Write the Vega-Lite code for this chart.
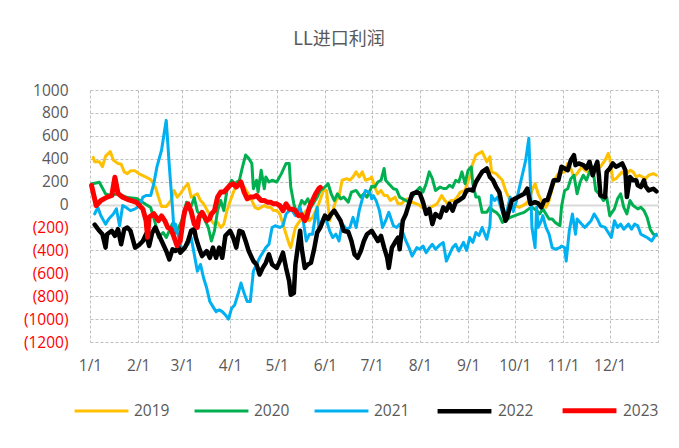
{
  "$schema": "https://vega.github.io/schema/vega-lite/v6.json",
  "width": 568,
  "height": 252,
  "autosize": {"type": "none"},
  "padding": {"left": 90, "top": 90, "right": 21, "bottom": 106},
  "background": "white",
  "config": {"view": {"stroke": null}},
  "title": {"text": "LL进口利润", "font": "Noto Sans CJK SC", "fontSize": 18, "fontWeight": "normal", "color": "#595959", "offset": 34, "dx": -35},
  "data": {"values": [
{"year":"2019","day":2,"value":412},{"year":"2019","day":3,"value":373},{"year":"2019","day":6,"value":373},{"year":"2019","day":8,"value":330},{"year":"2019","day":10,"value":423},{"year":"2019","day":13,"value":462},{"year":"2019","day":15,"value":388},{"year":"2019","day":18,"value":359},{"year":"2019","day":20,"value":353},{"year":"2019","day":22,"value":285},{"year":"2019","day":24,"value":270},{"year":"2019","day":26,"value":294},{"year":"2019","day":29,"value":294},{"year":"2019","day":32,"value":265},{"year":"2019","day":35,"value":247},{"year":"2019","day":39,"value":218},{"year":"2019","day":42,"value":153},{"year":"2019","day":44,"value":65},{"year":"2019","day":46,"value":-18},{"year":"2019","day":49,"value":-18},{"year":"2019","day":52,"value":35},{"year":"2019","day":54,"value":123},{"year":"2019","day":56,"value":65},{"year":"2019","day":58,"value":94},{"year":"2019","day":61,"value":153},{"year":"2019","day":63,"value":182},{"year":"2019","day":65,"value":65},{"year":"2019","day":67,"value":79},{"year":"2019","day":69,"value":94},{"year":"2019","day":71,"value":35},{"year":"2019","day":73,"value":6},{"year":"2019","day":76,"value":-68},{"year":"2019","day":78,"value":-141},{"year":"2019","day":80,"value":-171},{"year":"2019","day":82,"value":-156},{"year":"2019","day":84,"value":-200},{"year":"2019","day":86,"value":-171},{"year":"2019","day":88,"value":-53},{"year":"2019","day":91,"value":65},{"year":"2019","day":93,"value":138},{"year":"2019","day":95,"value":182},{"year":"2019","day":97,"value":168},{"year":"2019","day":99,"value":153},{"year":"2019","day":101,"value":109},{"year":"2019","day":103,"value":65},{"year":"2019","day":106,"value":-24},{"year":"2019","day":108,"value":-38},{"year":"2019","day":110,"value":-24},{"year":"2019","day":112,"value":-9},{"year":"2019","day":114,"value":-24},{"year":"2019","day":116,"value":-24},{"year":"2019","day":118,"value":-53},{"year":"2019","day":120,"value":-53},{"year":"2019","day":122,"value":-82},{"year":"2019","day":124,"value":-171},{"year":"2019","day":126,"value":-259},{"year":"2019","day":128,"value":-347},{"year":"2019","day":129,"value":-376},{"year":"2019","day":130,"value":-318},{"year":"2019","day":132,"value":-200},{"year":"2019","day":135,"value":-141},{"year":"2019","day":137,"value":-82},{"year":"2019","day":139,"value":-53},{"year":"2019","day":141,"value":-141},{"year":"2019","day":143,"value":-112},{"year":"2019","day":145,"value":-53},{"year":"2019","day":147,"value":6},{"year":"2019","day":150,"value":123},{"year":"2019","day":152,"value":123},{"year":"2019","day":154,"value":-141},{"year":"2019","day":156,"value":-53},{"year":"2019","day":158,"value":35},{"year":"2019","day":160,"value":65},{"year":"2019","day":162,"value":212},{"year":"2019","day":165,"value":226},{"year":"2019","day":167,"value":212},{"year":"2019","day":169,"value":241},{"year":"2019","day":171,"value":285},{"year":"2019","day":173,"value":241},{"year":"2019","day":175,"value":285},{"year":"2019","day":177,"value":212},{"year":"2019","day":180,"value":226},{"year":"2019","day":181,"value":241},{"year":"2019","day":183,"value":153},{"year":"2019","day":185,"value":94},{"year":"2019","day":187,"value":123},{"year":"2019","day":189,"value":79},{"year":"2019","day":191,"value":79},{"year":"2019","day":193,"value":35},{"year":"2019","day":196,"value":65},{"year":"2019","day":198,"value":6},{"year":"2019","day":200,"value":6},{"year":"2019","day":202,"value":35},{"year":"2019","day":204,"value":50},{"year":"2019","day":207,"value":20},{"year":"2019","day":211,"value":0},{"year":"2019","day":214,"value":-30},{"year":"2019","day":217,"value":-53},{"year":"2019","day":219,"value":-24},{"year":"2019","day":223,"value":6},{"year":"2019","day":226,"value":79},{"year":"2019","day":228,"value":35},{"year":"2019","day":230,"value":6},{"year":"2019","day":232,"value":35},{"year":"2019","day":234,"value":35},{"year":"2019","day":236,"value":65},{"year":"2019","day":238,"value":109},{"year":"2019","day":241,"value":123},{"year":"2019","day":242,"value":168},{"year":"2019","day":244,"value":241},{"year":"2019","day":246,"value":359},{"year":"2019","day":248,"value":432},{"year":"2019","day":250,"value":447},{"year":"2019","day":252,"value":462},{"year":"2019","day":255,"value":373},{"year":"2019","day":257,"value":418},{"year":"2019","day":258,"value":285},{"year":"2019","day":261,"value":270},{"year":"2019","day":263,"value":241},{"year":"2019","day":265,"value":212},{"year":"2019","day":267,"value":123},{"year":"2019","day":269,"value":65},{"year":"2019","day":271,"value":6},{"year":"2019","day":273,"value":-9},{"year":"2019","day":276,"value":-24},{"year":"2019","day":278,"value":-9},{"year":"2019","day":280,"value":6},{"year":"2019","day":282,"value":35},{"year":"2019","day":284,"value":123},{"year":"2019","day":286,"value":182},{"year":"2019","day":288,"value":94},{"year":"2019","day":291,"value":6},{"year":"2019","day":293,"value":-24},{"year":"2019","day":295,"value":35},{"year":"2019","day":297,"value":138},{"year":"2019","day":299,"value":226},{"year":"2019","day":301,"value":270},{"year":"2019","day":303,"value":280},{"year":"2019","day":305,"value":285},{"year":"2019","day":307,"value":359},{"year":"2019","day":309,"value":315},{"year":"2019","day":311,"value":241},{"year":"2019","day":313,"value":270},{"year":"2019","day":316,"value":329},{"year":"2019","day":318,"value":300},{"year":"2019","day":320,"value":285},{"year":"2019","day":322,"value":315},{"year":"2019","day":324,"value":270},{"year":"2019","day":326,"value":344},{"year":"2019","day":328,"value":329},{"year":"2019","day":331,"value":388},{"year":"2019","day":333,"value":447},{"year":"2019","day":334,"value":403},{"year":"2019","day":336,"value":212},{"year":"2019","day":338,"value":226},{"year":"2019","day":340,"value":256},{"year":"2019","day":342,"value":285},{"year":"2019","day":344,"value":256},{"year":"2019","day":347,"value":300},{"year":"2019","day":349,"value":285},{"year":"2019","day":351,"value":241},{"year":"2019","day":353,"value":256},{"year":"2019","day":355,"value":241},{"year":"2019","day":357,"value":226},{"year":"2019","day":359,"value":256},{"year":"2019","day":362,"value":270},{"year":"2019","day":364,"value":256},
{"year":"2020","day":1,"value":180},{"year":"2020","day":6,"value":195},{"year":"2020","day":10,"value":93},{"year":"2020","day":13,"value":79},{"year":"2020","day":18,"value":96},{"year":"2020","day":24,"value":61},{"year":"2020","day":30,"value":52},{"year":"2020","day":35,"value":9},{"year":"2020","day":39,"value":-26},{"year":"2020","day":42,"value":-166},{"year":"2020","day":44,"value":-288},{"year":"2020","day":47,"value":-244},{"year":"2020","day":49,"value":-288},{"year":"2020","day":53,"value":-166},{"year":"2020","day":55,"value":-250},{"year":"2020","day":57,"value":-200},{"year":"2020","day":59,"value":-140},{"year":"2020","day":62,"value":20},{"year":"2020","day":64,"value":-50},{"year":"2020","day":67,"value":60},{"year":"2020","day":69,"value":-60},{"year":"2020","day":71,"value":-90},{"year":"2020","day":73,"value":-112},{"year":"2020","day":76,"value":-200},{"year":"2020","day":78,"value":-318},{"year":"2020","day":80,"value":-229},{"year":"2020","day":82,"value":-53},{"year":"2020","day":84,"value":35},{"year":"2020","day":86,"value":-53},{"year":"2020","day":88,"value":123},{"year":"2020","day":91,"value":212},{"year":"2020","day":93,"value":182},{"year":"2020","day":96,"value":212},{"year":"2020","day":98,"value":329},{"year":"2020","day":100,"value":432},{"year":"2020","day":102,"value":403},{"year":"2020","day":104,"value":359},{"year":"2020","day":105,"value":138},{"year":"2020","day":107,"value":212},{"year":"2020","day":108,"value":109},{"year":"2020","day":110,"value":300},{"year":"2020","day":112,"value":138},{"year":"2020","day":113,"value":241},{"year":"2020","day":115,"value":197},{"year":"2020","day":117,"value":212},{"year":"2020","day":120,"value":197},{"year":"2020","day":123,"value":270},{"year":"2020","day":126,"value":359},{"year":"2020","day":128,"value":359},{"year":"2020","day":129,"value":153},{"year":"2020","day":131,"value":6},{"year":"2020","day":133,"value":-82},{"year":"2020","day":136,"value":35},{"year":"2020","day":138,"value":6},{"year":"2020","day":140,"value":50},{"year":"2020","day":142,"value":-24},{"year":"2020","day":144,"value":21},{"year":"2020","day":146,"value":65},{"year":"2020","day":148,"value":123},{"year":"2020","day":151,"value":153},{"year":"2020","day":153,"value":182},{"year":"2020","day":155,"value":94},{"year":"2020","day":157,"value":35},{"year":"2020","day":159,"value":94},{"year":"2020","day":161,"value":50},{"year":"2020","day":163,"value":65},{"year":"2020","day":166,"value":21},{"year":"2020","day":168,"value":109},{"year":"2020","day":171,"value":123},{"year":"2020","day":174,"value":65},{"year":"2020","day":176,"value":94},{"year":"2020","day":178,"value":65},{"year":"2020","day":180,"value":123},{"year":"2020","day":181,"value":160},{"year":"2020","day":183,"value":153},{"year":"2020","day":185,"value":197},{"year":"2020","day":187,"value":212},{"year":"2020","day":189,"value":315},{"year":"2020","day":190,"value":212},{"year":"2020","day":192,"value":182},{"year":"2020","day":195,"value":138},{"year":"2020","day":197,"value":130},{"year":"2020","day":199,"value":65},{"year":"2020","day":201,"value":50},{"year":"2020","day":203,"value":35},{"year":"2020","day":205,"value":21},{"year":"2020","day":207,"value":65},{"year":"2020","day":210,"value":123},{"year":"2020","day":212,"value":150},{"year":"2020","day":214,"value":109},{"year":"2020","day":216,"value":182},{"year":"2020","day":218,"value":285},{"year":"2020","day":220,"value":226},{"year":"2020","day":222,"value":123},{"year":"2020","day":225,"value":153},{"year":"2020","day":227,"value":140},{"year":"2020","day":229,"value":140},{"year":"2020","day":231,"value":168},{"year":"2020","day":233,"value":150},{"year":"2020","day":235,"value":212},{"year":"2020","day":237,"value":197},{"year":"2020","day":239,"value":285},{"year":"2020","day":241,"value":182},{"year":"2020","day":242,"value":241},{"year":"2020","day":243,"value":300},{"year":"2020","day":245,"value":329},{"year":"2020","day":246,"value":182},{"year":"2020","day":248,"value":65},{"year":"2020","day":250,"value":65},{"year":"2020","day":252,"value":-68},{"year":"2020","day":255,"value":-68},{"year":"2020","day":257,"value":-24},{"year":"2020","day":259,"value":-53},{"year":"2020","day":261,"value":-68},{"year":"2020","day":263,"value":-97},{"year":"2020","day":265,"value":-156},{"year":"2020","day":267,"value":-141},{"year":"2020","day":270,"value":-112},{"year":"2020","day":273,"value":-97},{"year":"2020","day":276,"value":-82},{"year":"2020","day":279,"value":-68},{"year":"2020","day":282,"value":-38},{"year":"2020","day":284,"value":-24},{"year":"2020","day":287,"value":-53},{"year":"2020","day":289,"value":-82},{"year":"2020","day":291,"value":-38},{"year":"2020","day":293,"value":-82},{"year":"2020","day":295,"value":-126},{"year":"2020","day":297,"value":-126},{"year":"2020","day":299,"value":-156},{"year":"2020","day":302,"value":-185},{"year":"2020","day":303,"value":-20},{"year":"2020","day":305,"value":123},{"year":"2020","day":307,"value":138},{"year":"2020","day":309,"value":226},{"year":"2020","day":311,"value":256},{"year":"2020","day":313,"value":94},{"year":"2020","day":315,"value":197},{"year":"2020","day":317,"value":256},{"year":"2020","day":319,"value":212},{"year":"2020","day":321,"value":285},{"year":"2020","day":323,"value":329},{"year":"2020","day":325,"value":123},{"year":"2020","day":327,"value":94},{"year":"2020","day":330,"value":35},{"year":"2020","day":332,"value":65},{"year":"2020","day":334,"value":-97},{"year":"2020","day":337,"value":-38},{"year":"2020","day":339,"value":50},{"year":"2020","day":341,"value":94},{"year":"2020","day":343,"value":-24},{"year":"2020","day":345,"value":-82},{"year":"2020","day":347,"value":35},{"year":"2020","day":349,"value":-9},{"year":"2020","day":352,"value":-38},{"year":"2020","day":354,"value":-24},{"year":"2020","day":356,"value":-53},{"year":"2020","day":358,"value":-112},{"year":"2020","day":360,"value":-215},{"year":"2020","day":362,"value":-259},{"year":"2020","day":364,"value":-270},
{"year":"2021","day":3,"value":-82},{"year":"2021","day":5,"value":-24},{"year":"2021","day":7,"value":-97},{"year":"2021","day":10,"value":-171},{"year":"2021","day":12,"value":-126},{"year":"2021","day":15,"value":-82},{"year":"2021","day":17,"value":-38},{"year":"2021","day":19,"value":-185},{"year":"2021","day":21,"value":-9},{"year":"2021","day":23,"value":-24},{"year":"2021","day":26,"value":-53},{"year":"2021","day":29,"value":-38},{"year":"2021","day":32,"value":-9},{"year":"2021","day":34,"value":65},{"year":"2021","day":36,"value":79},{"year":"2021","day":39,"value":79},{"year":"2021","day":41,"value":182},{"year":"2021","day":43,"value":329},{"year":"2021","day":46,"value":476},{"year":"2021","day":48,"value":653},{"year":"2021","day":49,"value":735},{"year":"2021","day":51,"value":329},{"year":"2021","day":53,"value":-24},{"year":"2021","day":54,"value":-229},{"year":"2021","day":55,"value":-171},{"year":"2021","day":57,"value":-288},{"year":"2021","day":59,"value":-400},{"year":"2021","day":61,"value":-380},{"year":"2021","day":63,"value":-347},{"year":"2021","day":65,"value":-288},{"year":"2021","day":67,"value":-435},{"year":"2021","day":69,"value":-582},{"year":"2021","day":71,"value":-523},{"year":"2021","day":73,"value":-641},{"year":"2021","day":75,"value":-729},{"year":"2021","day":77,"value":-847},{"year":"2021","day":79,"value":-891},{"year":"2021","day":81,"value":-935},{"year":"2021","day":83,"value":-920},{"year":"2021","day":85,"value":-935},{"year":"2021","day":87,"value":-964},{"year":"2021","day":89,"value":-1000},{"year":"2021","day":91,"value":-906},{"year":"2021","day":93,"value":-876},{"year":"2021","day":95,"value":-788},{"year":"2021","day":97,"value":-685},{"year":"2021","day":99,"value":-773},{"year":"2021","day":101,"value":-847},{"year":"2021","day":103,"value":-847},{"year":"2021","day":105,"value":-582},{"year":"2021","day":107,"value":-523},{"year":"2021","day":109,"value":-465},{"year":"2021","day":111,"value":-420},{"year":"2021","day":113,"value":-376},{"year":"2021","day":115,"value":-347},{"year":"2021","day":117,"value":-200},{"year":"2021","day":119,"value":-185},{"year":"2021","day":122,"value":-200},{"year":"2021","day":124,"value":-185},{"year":"2021","day":126,"value":-82},{"year":"2021","day":128,"value":-53},{"year":"2021","day":130,"value":-53},{"year":"2021","day":132,"value":-97},{"year":"2021","day":135,"value":-24},{"year":"2021","day":137,"value":-141},{"year":"2021","day":139,"value":-318},{"year":"2021","day":141,"value":-259},{"year":"2021","day":143,"value":-259},{"year":"2021","day":145,"value":-82},{"year":"2021","day":146,"value":-24},{"year":"2021","day":147,"value":-200},{"year":"2021","day":150,"value":-112},{"year":"2021","day":152,"value":-141},{"year":"2021","day":154,"value":-229},{"year":"2021","day":156,"value":-288},{"year":"2021","day":158,"value":-259},{"year":"2021","day":160,"value":-318},{"year":"2021","day":162,"value":-171},{"year":"2021","day":165,"value":-215},{"year":"2021","day":167,"value":-200},{"year":"2021","day":169,"value":-112},{"year":"2021","day":171,"value":-200},{"year":"2021","day":173,"value":-53},{"year":"2021","day":175,"value":50},{"year":"2021","day":177,"value":123},{"year":"2021","day":180,"value":100},{"year":"2021","day":181,"value":50},{"year":"2021","day":182,"value":79},{"year":"2021","day":184,"value":30},{"year":"2021","day":186,"value":-53},{"year":"2021","day":188,"value":-200},{"year":"2021","day":190,"value":-141},{"year":"2021","day":192,"value":-68},{"year":"2021","day":195,"value":-185},{"year":"2021","day":197,"value":-200},{"year":"2021","day":199,"value":-171},{"year":"2021","day":201,"value":-244},{"year":"2021","day":203,"value":-318},{"year":"2021","day":205,"value":-376},{"year":"2021","day":207,"value":-450},{"year":"2021","day":210,"value":-376},{"year":"2021","day":212,"value":-390},{"year":"2021","day":214,"value":-362},{"year":"2021","day":216,"value":-420},{"year":"2021","day":218,"value":-380},{"year":"2021","day":220,"value":-347},{"year":"2021","day":222,"value":-390},{"year":"2021","day":225,"value":-350},{"year":"2021","day":227,"value":-332},{"year":"2021","day":229,"value":-494},{"year":"2021","day":231,"value":-435},{"year":"2021","day":233,"value":-376},{"year":"2021","day":235,"value":-347},{"year":"2021","day":237,"value":-406},{"year":"2021","day":240,"value":-330},{"year":"2021","day":242,"value":-400},{"year":"2021","day":244,"value":-288},{"year":"2021","day":246,"value":-330},{"year":"2021","day":248,"value":-244},{"year":"2021","day":250,"value":-270},{"year":"2021","day":252,"value":-200},{"year":"2021","day":255,"value":-303},{"year":"2021","day":257,"value":-185},{"year":"2021","day":258,"value":79},{"year":"2021","day":260,"value":35},{"year":"2021","day":262,"value":65},{"year":"2021","day":264,"value":-24},{"year":"2021","day":266,"value":-112},{"year":"2021","day":268,"value":-53},{"year":"2021","day":270,"value":65},{"year":"2021","day":272,"value":-60},{"year":"2021","day":274,"value":30},{"year":"2021","day":276,"value":153},{"year":"2021","day":278,"value":270},{"year":"2021","day":280,"value":388},{"year":"2021","day":282,"value":579},{"year":"2021","day":283,"value":182},{"year":"2021","day":284,"value":-200},{"year":"2021","day":286,"value":-376},{"year":"2021","day":287,"value":-24},{"year":"2021","day":288,"value":-200},{"year":"2021","day":290,"value":-140},{"year":"2021","day":291,"value":-97},{"year":"2021","day":293,"value":-200},{"year":"2021","day":295,"value":-259},{"year":"2021","day":297,"value":-376},{"year":"2021","day":299,"value":-390},{"year":"2021","day":302,"value":-376},{"year":"2021","day":303,"value":-362},{"year":"2021","day":305,"value":-376},{"year":"2021","day":306,"value":-494},{"year":"2021","day":308,"value":-229},{"year":"2021","day":310,"value":-82},{"year":"2021","day":312,"value":-259},{"year":"2021","day":313,"value":-126},{"year":"2021","day":316,"value":-171},{"year":"2021","day":318,"value":-200},{"year":"2021","day":320,"value":-171},{"year":"2021","day":322,"value":-141},{"year":"2021","day":324,"value":-82},{"year":"2021","day":326,"value":-126},{"year":"2021","day":328,"value":-185},{"year":"2021","day":331,"value":-200},{"year":"2021","day":333,"value":-244},{"year":"2021","day":335,"value":-288},{"year":"2021","day":337,"value":-141},{"year":"2021","day":339,"value":-200},{"year":"2021","day":341,"value":-171},{"year":"2021","day":343,"value":-215},{"year":"2021","day":346,"value":-171},{"year":"2021","day":348,"value":-215},{"year":"2021","day":350,"value":-171},{"year":"2021","day":352,"value":-185},{"year":"2021","day":354,"value":-259},{"year":"2021","day":356,"value":-273},{"year":"2021","day":358,"value":-288},{"year":"2021","day":361,"value":-318},{"year":"2021","day":363,"value":-273},{"year":"2021","day":364,"value":-259},
{"year":"2022","day":3,"value":-176},{"year":"2022","day":6,"value":-229},{"year":"2022","day":8,"value":-259},{"year":"2022","day":10,"value":-376},{"year":"2022","day":11,"value":-259},{"year":"2022","day":14,"value":-229},{"year":"2022","day":16,"value":-273},{"year":"2022","day":18,"value":-215},{"year":"2022","day":20,"value":-347},{"year":"2022","day":22,"value":-215},{"year":"2022","day":24,"value":-200},{"year":"2022","day":26,"value":-229},{"year":"2022","day":29,"value":-376},{"year":"2022","day":32,"value":-347},{"year":"2022","day":34,"value":-318},{"year":"2022","day":36,"value":-259},{"year":"2022","day":38,"value":-362},{"year":"2022","day":40,"value":-244},{"year":"2022","day":42,"value":-200},{"year":"2022","day":45,"value":-288},{"year":"2022","day":47,"value":-347},{"year":"2022","day":49,"value":-406},{"year":"2022","day":51,"value":-479},{"year":"2022","day":53,"value":-391},{"year":"2022","day":55,"value":-406},{"year":"2022","day":57,"value":-376},{"year":"2022","day":58,"value":-420},{"year":"2022","day":61,"value":-376},{"year":"2022","day":63,"value":-318},{"year":"2022","day":65,"value":-229},{"year":"2022","day":67,"value":-215},{"year":"2022","day":68,"value":-288},{"year":"2022","day":70,"value":-376},{"year":"2022","day":72,"value":-450},{"year":"2022","day":75,"value":-406},{"year":"2022","day":77,"value":-465},{"year":"2022","day":79,"value":-376},{"year":"2022","day":81,"value":-465},{"year":"2022","day":83,"value":-376},{"year":"2022","day":85,"value":-465},{"year":"2022","day":87,"value":-273},{"year":"2022","day":90,"value":-229},{"year":"2022","day":92,"value":-288},{"year":"2022","day":94,"value":-376},{"year":"2022","day":96,"value":-229},{"year":"2022","day":98,"value":-240},{"year":"2022","day":100,"value":-318},{"year":"2022","day":102,"value":-406},{"year":"2022","day":105,"value":-494},{"year":"2022","day":107,"value":-523},{"year":"2022","day":109,"value":-611},{"year":"2022","day":111,"value":-553},{"year":"2022","day":113,"value":-509},{"year":"2022","day":115,"value":-435},{"year":"2022","day":117,"value":-523},{"year":"2022","day":120,"value":-553},{"year":"2022","day":122,"value":-494},{"year":"2022","day":124,"value":-420},{"year":"2022","day":126,"value":-553},{"year":"2022","day":128,"value":-670},{"year":"2022","day":129,"value":-788},{"year":"2022","day":131,"value":-773},{"year":"2022","day":132,"value":-523},{"year":"2022","day":135,"value":-229},{"year":"2022","day":136,"value":-376},{"year":"2022","day":138,"value":-553},{"year":"2022","day":140,"value":-523},{"year":"2022","day":142,"value":-509},{"year":"2022","day":144,"value":-391},{"year":"2022","day":146,"value":-244},{"year":"2022","day":148,"value":-200},{"year":"2022","day":151,"value":-97},{"year":"2022","day":153,"value":-126},{"year":"2022","day":155,"value":-82},{"year":"2022","day":157,"value":-53},{"year":"2022","day":159,"value":-97},{"year":"2022","day":161,"value":-141},{"year":"2022","day":163,"value":-229},{"year":"2022","day":166,"value":-240},{"year":"2022","day":168,"value":-318},{"year":"2022","day":170,"value":-435},{"year":"2022","day":172,"value":-465},{"year":"2022","day":174,"value":-406},{"year":"2022","day":176,"value":-318},{"year":"2022","day":178,"value":-259},{"year":"2022","day":181,"value":-229},{"year":"2022","day":183,"value":-273},{"year":"2022","day":185,"value":-318},{"year":"2022","day":187,"value":-273},{"year":"2022","day":189,"value":-376},{"year":"2022","day":191,"value":-465},{"year":"2022","day":192,"value":-553},{"year":"2022","day":194,"value":-376},{"year":"2022","day":196,"value":-330},{"year":"2022","day":198,"value":-288},{"year":"2022","day":199,"value":-391},{"year":"2022","day":201,"value":-141},{"year":"2022","day":203,"value":-82},{"year":"2022","day":205,"value":6},{"year":"2022","day":207,"value":94},{"year":"2022","day":210,"value":109},{"year":"2022","day":212,"value":94},{"year":"2022","day":214,"value":21},{"year":"2022","day":216,"value":-82},{"year":"2022","day":218,"value":-38},{"year":"2022","day":220,"value":-171},{"year":"2022","day":222,"value":-82},{"year":"2022","day":225,"value":-112},{"year":"2022","day":227,"value":-24},{"year":"2022","day":229,"value":-53},{"year":"2022","day":231,"value":6},{"year":"2022","day":233,"value":-53},{"year":"2022","day":235,"value":21},{"year":"2022","day":237,"value":35},{"year":"2022","day":240,"value":65},{"year":"2022","day":242,"value":123},{"year":"2022","day":244,"value":130},{"year":"2022","day":246,"value":123},{"year":"2022","day":248,"value":197},{"year":"2022","day":250,"value":241},{"year":"2022","day":252,"value":285},{"year":"2022","day":255,"value":315},{"year":"2022","day":257,"value":241},{"year":"2022","day":259,"value":212},{"year":"2022","day":261,"value":153},{"year":"2022","day":263,"value":109},{"year":"2022","day":265,"value":-24},{"year":"2022","day":267,"value":-141},{"year":"2022","day":268,"value":-112},{"year":"2022","day":271,"value":35},{"year":"2022","day":273,"value":50},{"year":"2022","day":275,"value":65},{"year":"2022","day":277,"value":80},{"year":"2022","day":279,"value":94},{"year":"2022","day":281,"value":138},{"year":"2022","day":283,"value":6},{"year":"2022","day":286,"value":21},{"year":"2022","day":288,"value":10},{"year":"2022","day":290,"value":-24},{"year":"2022","day":292,"value":35},{"year":"2022","day":294,"value":40},{"year":"2022","day":296,"value":123},{"year":"2022","day":298,"value":212},{"year":"2022","day":301,"value":212},{"year":"2022","day":303,"value":330},{"year":"2022","day":305,"value":315},{"year":"2022","day":307,"value":300},{"year":"2022","day":309,"value":388},{"year":"2022","day":311,"value":432},{"year":"2022","day":312,"value":344},{"year":"2022","day":314,"value":359},{"year":"2022","day":317,"value":344},{"year":"2022","day":319,"value":315},{"year":"2022","day":321,"value":373},{"year":"2022","day":323,"value":256},{"year":"2022","day":324,"value":300},{"year":"2022","day":326,"value":373},{"year":"2022","day":327,"value":256},{"year":"2022","day":328,"value":79},{"year":"2022","day":331,"value":65},{"year":"2022","day":332,"value":285},{"year":"2022","day":334,"value":315},{"year":"2022","day":336,"value":359},{"year":"2022","day":338,"value":330},{"year":"2022","day":340,"value":344},{"year":"2022","day":342,"value":359},{"year":"2022","day":344,"value":300},{"year":"2022","day":345,"value":65},{"year":"2022","day":347,"value":241},{"year":"2022","day":349,"value":212},{"year":"2022","day":351,"value":212},{"year":"2022","day":352,"value":168},{"year":"2022","day":354,"value":153},{"year":"2022","day":356,"value":212},{"year":"2022","day":357,"value":160},{"year":"2022","day":359,"value":123},{"year":"2022","day":362,"value":138},{"year":"2022","day":364,"value":115},
{"year":"2023","day":1,"value":166},{"year":"2023","day":4,"value":-9},{"year":"2023","day":7,"value":35},{"year":"2023","day":11,"value":65},{"year":"2023","day":14,"value":79},{"year":"2023","day":16,"value":238},{"year":"2023","day":18,"value":96},{"year":"2023","day":21,"value":64},{"year":"2023","day":25,"value":40},{"year":"2023","day":30,"value":18},{"year":"2023","day":34,"value":-40},{"year":"2023","day":36,"value":-140},{"year":"2023","day":37,"value":-285},{"year":"2023","day":38,"value":-110},{"year":"2023","day":41,"value":-80},{"year":"2023","day":44,"value":-140},{"year":"2023","day":46,"value":-100},{"year":"2023","day":48,"value":-140},{"year":"2023","day":50,"value":-200},{"year":"2023","day":52,"value":-215},{"year":"2023","day":54,"value":-285},{"year":"2023","day":56,"value":-360},{"year":"2023","day":58,"value":-314},{"year":"2023","day":60,"value":-120},{"year":"2023","day":61,"value":-53},{"year":"2023","day":63,"value":6},{"year":"2023","day":65,"value":-60},{"year":"2023","day":67,"value":-171},{"year":"2023","day":69,"value":-200},{"year":"2023","day":70,"value":-112},{"year":"2023","day":72,"value":-68},{"year":"2023","day":73,"value":-90},{"year":"2023","day":75,"value":-141},{"year":"2023","day":77,"value":-120},{"year":"2023","day":78,"value":-82},{"year":"2023","day":80,"value":-53},{"year":"2023","day":82,"value":65},{"year":"2023","day":84,"value":109},{"year":"2023","day":86,"value":109},{"year":"2023","day":88,"value":138},{"year":"2023","day":90,"value":168},{"year":"2023","day":92,"value":182},{"year":"2023","day":94,"value":153},{"year":"2023","day":97,"value":197},{"year":"2023","day":99,"value":109},{"year":"2023","day":101,"value":50},{"year":"2023","day":103,"value":65},{"year":"2023","day":105,"value":65},{"year":"2023","day":107,"value":79},{"year":"2023","day":110,"value":35},{"year":"2023","day":112,"value":35},{"year":"2023","day":114,"value":21},{"year":"2023","day":116,"value":21},{"year":"2023","day":118,"value":6},{"year":"2023","day":120,"value":6},{"year":"2023","day":122,"value":-10},{"year":"2023","day":124,"value":-53},{"year":"2023","day":126,"value":6},{"year":"2023","day":128,"value":-38},{"year":"2023","day":130,"value":-40},{"year":"2023","day":132,"value":-53},{"year":"2023","day":134,"value":-97},{"year":"2023","day":136,"value":-90},{"year":"2023","day":138,"value":-141},{"year":"2023","day":139,"value":-120},{"year":"2023","day":141,"value":-24},{"year":"2023","day":143,"value":35},{"year":"2023","day":145,"value":94},{"year":"2023","day":147,"value":138},{"year":"2023","day":148,"value":150}
  ]},
  "mark": {"type": "line", "strokeJoin": "round", "strokeCap": "round"},
  "encoding": {
    "x": {
      "field": "day", "type": "quantitative",
      "scale": {"domain": [0, 365], "nice": false, "zero": false},
      "axis": {
        "title": null,
        "values": [0, 31, 59, 90, 120, 151, 181, 212, 243, 273, 304, 334, 365],
        "labelExpr": "datum.value >= 365 ? '' : timeFormat(datetime(2021, 0, 1 + datum.value), '%-m/%-d')",
        "domain": false, "ticks": false,
        "grid": true, "gridColor": "#BFBFBF", "gridDash": [3, 2], "gridWidth": 1,
        "labelFont": "Open Sans", "labelFontSize": 15.5, "labelColor": "#595959",
        "labelPadding": 16, "labelFlush": false, "labelOverlap": false
      }
    },
    "y": {
      "field": "value", "type": "quantitative",
      "scale": {"domain": [-1200, 1000], "nice": false, "zero": false},
      "axis": {
        "title": null,
        "values": [-1200, -1000, -800, -600, -400, -200, 0, 200, 400, 600, 800, 1000],
        "labelExpr": "datum.value < 0 ? '(' + format(-datum.value, 'd') + ')' : format(datum.value, 'd')",
        "labelColor": {"condition": {"test": "datum.value < 0", "value": "#FF0000"}, "value": "#595959"},
        "domain": false, "ticks": false,
        "grid": true,
        "gridColor": {"condition": {"test": "datum.value === 0", "value": "#D9D9D9"}, "value": "#BFBFBF"},
        "gridDash": {"condition": {"test": "datum.value === 0", "value": []}, "value": [3, 2]},
        "gridWidth": {"condition": {"test": "datum.value === 0", "value": 2}, "value": 1},
        "labelFont": "Open Sans", "labelFontSize": 15.5,
        "labelPadding": 22, "labelFlush": false, "labelOverlap": false
      }
    },
    "color": {
      "field": "year", "type": "nominal",
      "scale": {"domain": ["2019", "2020", "2021", "2022", "2023"], "range": ["#FFC000", "#00B050", "#00B0F0", "#000000", "#FF0000"]},
      "legend": {
        "title": null, "orient": "none", "direction": "horizontal",
        "legendX": -17, "legendY": 291,
        "symbolType": "stroke", "symbolSize": 2900,
        "labelFont": "Open Sans", "labelFontSize": 15.5, "labelColor": "#595959",
        "labelOffset": 4, "columnPadding": 18
      }
    },
    "strokeWidth": {
      "field": "year", "type": "nominal",
      "scale": {"type": "ordinal", "domain": ["2019", "2020", "2021", "2022", "2023"], "range": [3, 3, 3, 4.5, 5]},
      "legend": {
        "title": null, "orient": "none", "direction": "horizontal",
        "legendX": -17, "legendY": 291,
        "symbolType": "stroke", "symbolSize": 2900,
        "labelFont": "Open Sans", "labelFontSize": 15.5, "labelColor": "#595959",
        "labelOffset": 4, "columnPadding": 18
      }
    }
  }
}
